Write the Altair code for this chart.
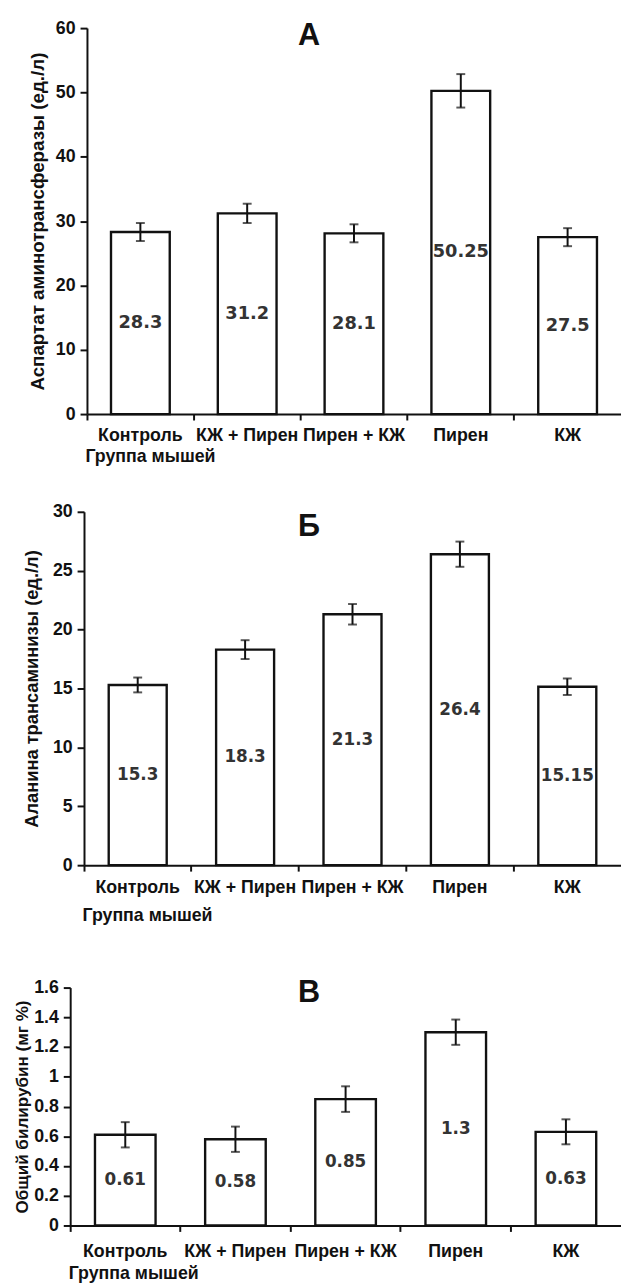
import altair as alt
import pandas as pd

groups = ["Контроль", "КЖ + Пирен", "Пирен + КЖ", "Пирен", "КЖ"]

ast_values = [28.3, 31.2, 28.1, 50.25, 27.5]
ast_errors = [1.4, 1.5, 1.4, 2.6, 1.4]
ast_labels = ["28.3", "31.2", "28.1", "50.25", "27.5"]
ast_ticks = [0, 10, 20, 30, 40, 50, 60]

alt_values = [15.3, 18.3, 21.3, 26.4, 15.15]
alt_errors = [0.63, 0.8, 0.87, 1.07, 0.7]
alt_labels = ["15.3", "18.3", "21.3", "26.4", "15.15"]
alt_ticks = [0, 5, 10, 15, 20, 25, 30]

bil_values = [0.61, 0.58, 0.85, 1.3, 0.63]
bil_errors = [0.085, 0.085, 0.086, 0.085, 0.084]
bil_labels = ["0.61", "0.58", "0.85", "1.3", "0.63"]
bil_ticks = [0, 0.2, 0.4, 0.6, 0.8, 1, 1.2, 1.4, 1.6]

ARIAL = "Liberation Sans, Arial, sans-serif"
VERD = "DejaVu Sans, Verdana, sans-serif"
INK = "#111111"
W = 558


def panel(values, errors, labels, ticks, letter, ytitle, ytitle_size, height,
          shift, band_frac, ytitle_x, xtitle, xtitle_y, xtitle_lh,
          xlab_pad, letter_dx, letter_dy, lab_size):
    df = pd.DataFrame({"group": groups, "value": values, "err": errors,
                       "label": labels})
    df["lo"] = df["value"] - df["err"]
    df["hi"] = df["value"] + df["err"]
    df["mid"] = df["value"] / 2

    xaxis = alt.Axis(
        title=xtitle, bandPosition=0, labelAngle=0, labelFont=ARIAL,
        labelFontSize=18, labelFontWeight="bold", labelColor=INK,
        labelBaseline="middle", labelPadding=xlab_pad, tickSize=6,
        tickWidth=2, tickColor=INK, domainWidth=2, domainColor=INK,
        grid=False, titleFont=ARIAL, titleFontSize=18,
        titleFontWeight="bold", titleColor=INK, titleAlign="left",
        titleBaseline="alphabetic", titleX=shift - 2, titleY=xtitle_y,
        titleLineHeight=xtitle_lh,
    )
    xscale = alt.Scale(domain=groups, range=[shift, W], paddingInner=0,
                       paddingOuter=0)
    x = alt.X("group:N", scale=xscale, axis=xaxis)

    yaxis = alt.Axis(
        title=ytitle, values=ticks, format="~r", offset=-shift, grid=False,
        labelFont=ARIAL, labelFontSize=18, labelFontWeight="bold",
        labelColor=INK, labelPadding=5, tickSize=7, tickWidth=2,
        tickColor=INK, domainWidth=2, domainColor=INK,
        titleFont=ARIAL, titleFontSize=ytitle_size, titleFontWeight="bold",
        titleColor=INK, titleX=ytitle_x, titleY=height / 2,
        titleBaseline="middle", titleAlign="center", titleAngle=270,
    )
    yscale = alt.Scale(domain=[ticks[0], ticks[-1]], nice=False)

    base = alt.Chart(df)
    bars = base.mark_bar(
        width=alt.RelativeBandSize(band_frac), fill="white", stroke=INK,
        strokeWidth=2.4,
    ).encode(x=x, y=alt.Y("value:Q", scale=yscale, axis=yaxis))
    rule = base.mark_rule(color=INK, strokeWidth=2).encode(
        x=x, y=alt.Y("lo:Q", scale=yscale, axis=yaxis), y2="hi:Q")
    cap_lo = base.mark_tick(color=INK, size=9, thickness=2).encode(
        x=x, y=alt.Y("lo:Q", scale=yscale, axis=yaxis))
    cap_hi = base.mark_tick(color=INK, size=9, thickness=2).encode(
        x=x, y=alt.Y("hi:Q", scale=yscale, axis=yaxis))
    text = base.mark_text(
        font=VERD, fontSize=lab_size, fontWeight="bold", color="#333333",
        baseline="middle", align="center",
    ).encode(x=x, y=alt.Y("mid:Q", scale=yscale, axis=yaxis), text="label:N")

    return alt.layer(bars, rule, cap_lo, cap_hi, text).properties(
        width=W, height=height,
        title=alt.TitleParams(
            letter, font=ARIAL, fontSize=31, fontWeight="bold", color=INK,
            anchor="middle", frame="group", dx=letter_dx, dy=letter_dy,
        ),
    )


chart_a = panel(ast_values, ast_errors, ast_labels, ast_ticks, "А",
                "Аспартат аминотрансферазы (ед./л)", 19, 391, 17, 0.55, -50,
                "Группа мышей", 48, 18, 16, -37, 37, 18)
chart_b = panel(alt_values, alt_errors, alt_labels, alt_ticks, "Б",
                "Аланина трансаминизы (ед./л)", 18.5, 358, 14, 0.54, -53,
                ["Группа мышей", ""], 56, 16, 17, -37, 45, 17)
chart_c = panel(bil_values, bil_errors, bil_labels, bil_ticks, "В",
                "Общий билирубин (мг %)", 17.3, 241, 0, 0.55, -48,
                "Группа мышей", 54, 18, 20, -37, 35, 17)

chart = alt.vconcat(chart_a, chart_b, chart_c, spacing=38).properties(
    padding={"left": 5, "top": 3, "right": 0, "bottom": 0},
    background="white",
).configure_view(stroke=None)

chart.save("out.html", embed_options={"renderer": "svg", "actions": False})
